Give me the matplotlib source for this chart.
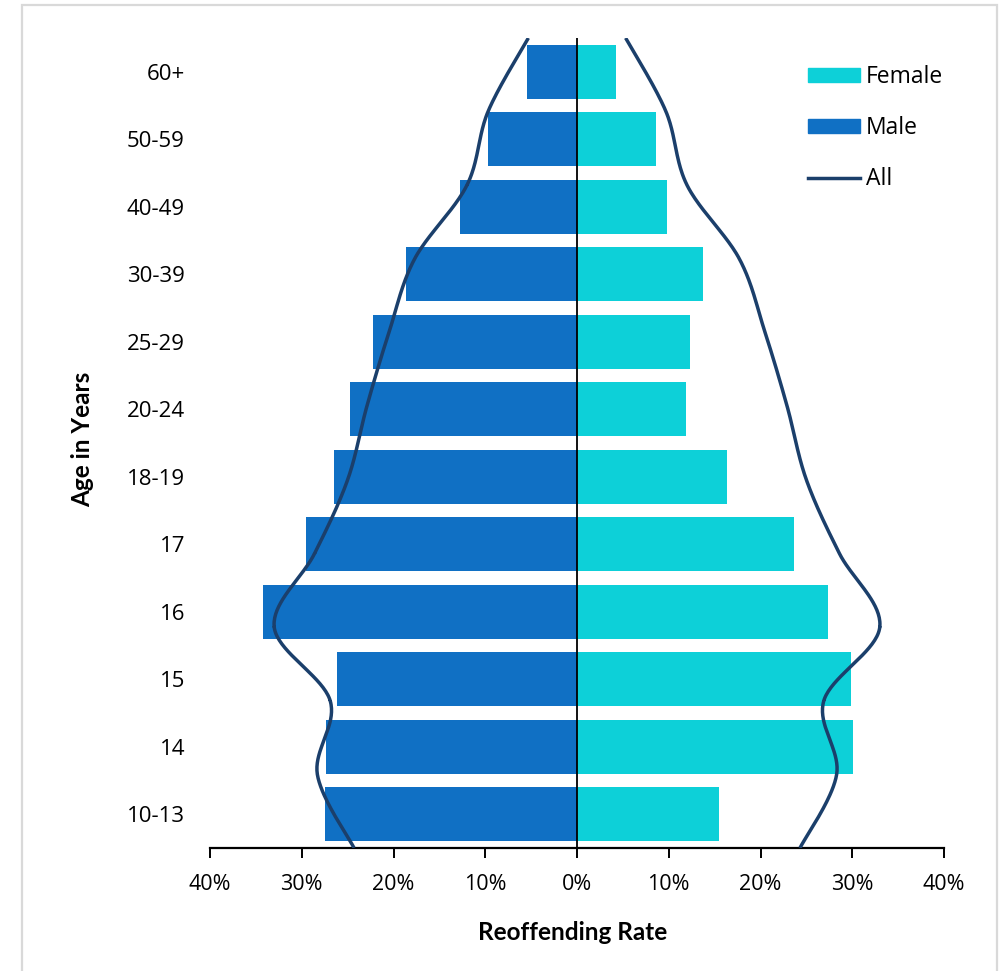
import numpy as np
import matplotlib.pyplot as plt
from matplotlib.patches import Rectangle, Patch
from matplotlib.lines import Line2D

# reoffending rate (%) by age group
ages = ['10-13', '14', '15', '16', '17', '18-19', '20-24', '25-29', '30-39', '40-49', '50-59', '60+']
male = [27.5, 27.4, 26.2, 34.2, 29.5, 26.45, 24.7, 22.2, 18.6, 12.7, 9.7, 5.5]
female = [15.5, 30.1, 29.9, 27.4, 23.6, 16.4, 11.9, 12.3, 13.7, 9.85, 8.6, 4.3]
all_rate = [24.3, 28.3, 26.9, 33.0, 28.6, 25.0, 22.9, 20.5, 17.7, 12.0, 9.7, 5.3]

MALE_C = '#1070C4'
FEMALE_C = '#0DD0D8'
LINE_C = '#1B3F6B'


def smooth(x, y, n=40):
    # catmull-rom spline through the points
    px = np.concatenate([[x[0]], x, [x[-1]]])
    py = np.concatenate([[y[0]], y, [y[-1]]])
    xs, ys = [], []
    t = np.linspace(0, 1, n)
    for i in range(1, len(px) - 2):
        for p, out in ((px, xs), (py, ys)):
            p0, p1, p2, p3 = p[i - 1], p[i], p[i + 1], p[i + 2]
            out.append(0.5 * (2 * p1 + (-p0 + p2) * t
                              + (2 * p0 - 5 * p1 + 4 * p2 - p3) * t ** 2
                              + (-p0 + 3 * p1 - 3 * p2 + p3) * t ** 3))
    return np.concatenate(xs), np.concatenate(ys)


fig = plt.figure(figsize=(10.08, 9.71), dpi=100)
ax = fig.add_axes([210 / 1008, 1 - 848 / 971, 734 / 1008, 810 / 971])

y = np.arange(len(ages))
ax.barh(y, [-m for m in male], height=0.8, color=MALE_C, zorder=2)
ax.barh(y, female, height=0.8, color=FEMALE_C, zorder=2)
ax.axvline(0, color='black', lw=1.3, zorder=3)

# "All" line spans the full height of the plot
ly = np.linspace(-0.5, len(ages) - 0.5, len(all_rate))
sx, sy = smooth(np.array(all_rate), ly)
ax.plot(sx, sy, color=LINE_C, lw=2.5, zorder=4, solid_capstyle='butt')
ax.plot(-sx, sy, color=LINE_C, lw=2.5, zorder=4, solid_capstyle='butt')

ax.set_xlim(-40, 40)
ax.set_ylim(-0.5, len(ages) - 0.5)
ax.set_xticks(range(-40, 41, 10))
ax.set_xticklabels([f'{abs(v)}%' for v in range(-40, 41, 10)],
                   fontname='Open Sans', fontsize=15.5)
ax.set_yticks(y)
ax.set_yticklabels(ages, fontname='Open Sans', fontsize=16)
ax.tick_params(axis='y', length=0, pad=18)
ax.tick_params(axis='x', length=7, width=1.4, direction='out', pad=12)
for s in ['top', 'right', 'left']:
    ax.spines[s].set_visible(False)
ax.spines['bottom'].set_linewidth(1.6)

ax.set_xlabel('Reoffending Rate', fontname='Lato', fontweight='bold', fontsize=17.5)
ax.xaxis.set_label_coords(0.494, -0.09)
ax.set_ylabel('Age in Years', fontname='Lato', fontweight='bold', fontsize=17.5)
ax.yaxis.set_label_coords(-0.158, 0.504)

handles = [Patch(color=FEMALE_C), Patch(color=MALE_C),
           Line2D([0], [0], color=LINE_C, lw=2.5)]
ax.legend(handles, ['Female', 'Male', 'All'], loc='upper right',
          bbox_to_anchor=(1.027, 0.992), frameon=False,
          prop={'family': 'Open Sans', 'size': 16.5},
          handlelength=2.3, handleheight=0.6, handletextpad=0.25,
          labelspacing=1.18)

fig.patches.append(Rectangle((22 / 1008, -0.05), 975 / 1008, 1.05 - 5 / 971,
                             transform=fig.transFigure, fill=False,
                             edgecolor='#D9D9D9', lw=1.6))

fig.savefig('out.png', dpi=100)
